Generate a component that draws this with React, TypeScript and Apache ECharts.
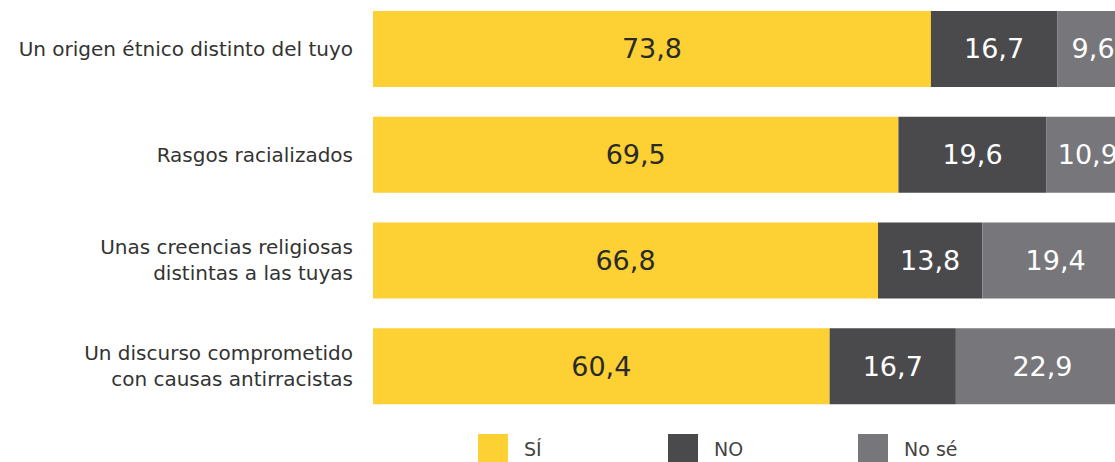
import React, { useEffect, useRef } from "react";
import * as echarts from "echarts";

const categories = [
  "Un origen étnico distinto del tuyo",
  "Rasgos racializados",
  "Unas creencias religiosas\ndistintas a las tuyas",
  "Un discurso comprometido\ncon causas antirracistas",
];
const siValues = [73.8, 69.5, 66.8, 60.4];
const noValues = [16.7, 19.6, 13.8, 16.7];
const nsValues = [9.6, 10.9, 19.4, 22.9];
const seriesNames = ["SÍ", "NO", "No sé"];
const colors = ["#FDD033", "#4A4A4C", "#77777B"];
const labelColors = ["#2a2a2a", "#ffffff", "#ffffff"];

const FONT = "'DejaVu Sans', sans-serif";
const OFF = 20;

export default function App() {
  const ref = useRef<HTMLDivElement>(null);
  useEffect(() => {
    if (!ref.current) return;
    const chart = echarts.init(ref.current, undefined, { renderer: "svg" });
    const dataSets = [siValues, noValues, nsValues];
    const legendLefts = [478, 668, 858];
    chart.setOption({
      animation: false,
      textStyle: { fontFamily: FONT },
      grid: { left: 373, width: 756, top: OFF - 4, height: 423, containLabel: false },
      xAxis: {
        type: "value",
        min: 0,
        max: 100,
        show: false,
      },
      yAxis: {
        type: "category",
        data: categories,
        inverse: true,
        axisLine: { show: false },
        axisTick: { show: false },
        splitLine: { show: false },
        axisLabel: {
          margin: 20,
          fontSize: 20,
          lineHeight: 26,
          color: "#333333",
          fontFamily: FONT,
          align: "right",
        },
      },
      legend: seriesNames.map((n, i) => ({
        data: [n],
        left: legendLefts[i],
        top: 434 + OFF,
        itemWidth: 30,
        itemHeight: 30,
        icon: "rect",
        selectedMode: false,
        padding: 0,
        textStyle: {
          fontSize: 19,
          color: "#444444",
          fontFamily: FONT,
          padding: [0, 0, 4, 11],
        },
      })),
      series: seriesNames.map((n, i) => ({
        name: n,
        type: "bar",
        stack: "total",
        barWidth: 76,
        data: dataSets[i],
        itemStyle: { color: colors[i] },
        label: {
          show: true,
          position: "inside",
          fontSize: 27,
          color: labelColors[i],
          fontFamily: FONT,
          formatter: (p: any) => String(p.value).replace(".", ","),
        },
      })),
    });
    return () => chart.dispose();
  }, []);
  return (
    <div
      ref={ref}
      style={{
        position: "fixed",
        left: 0,
        top: -OFF,
        width: 1160,
        height: 462 + OFF + 30,
        background: "#ffffff",
      }}
    />
  );
}
